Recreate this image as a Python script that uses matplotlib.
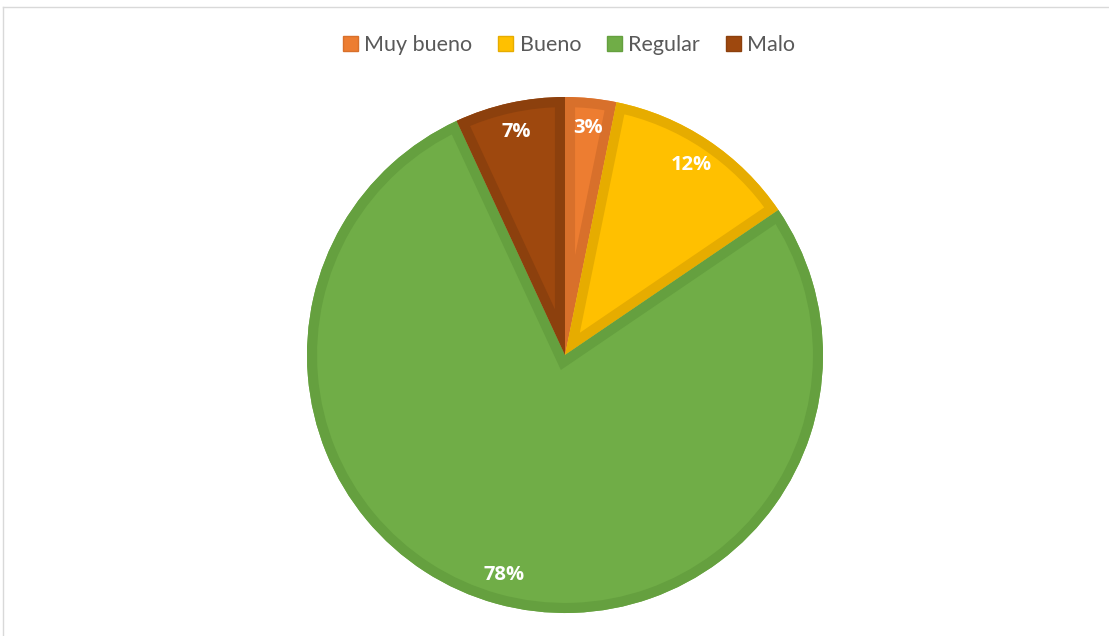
import matplotlib.pyplot as plt
from matplotlib.lines import Line2D
from matplotlib.patches import Patch, Wedge

categorias = ['Muy bueno', 'Bueno', 'Regular', 'Malo']
porcentajes = [3.2, 12.3, 77.6, 6.9]
colores = ['#ED7D31', '#FFC000', '#70AD47', '#9E480E']
bordes = ['#D8702B', '#E6AC00', '#65A03F', '#8C400D']

plt.rcParams['font.family'] = ['Lato', 'DejaVu Sans']

W, H = 1109, 636
fig = plt.figure(figsize=(W / 100, H / 100), dpi=100)

# pie centred at (565, 355) px with radius 258 px
cx, cy, r = 565, 355, 258
ax = fig.add_axes([(cx - r) / W, 1 - (cy + r) / H, 2 * r / W, 2 * r / H])

wedges, textos, autotextos = ax.pie(
    porcentajes, colors=colores, startangle=90, counterclock=False,
    autopct='%.0f%%', pctdistance=0.885,
    wedgeprops=dict(linewidth=0),
    textprops=dict(color='white', fontsize=14.5, fontweight='bold',
                   family=['Open Sans', 'DejaVu Sans']))

# inner border in a darker shade: a stroked copy of each wedge clipped to it
for w, bc in zip(wedges, bordes):
    borde = Wedge(w.center, w.r, w.theta1, w.theta2, fill=False,
                  edgecolor=bc, linewidth=14.5, joinstyle='miter')
    ax.add_patch(borde)
    borde.set_clip_path(w)
for t in autotextos:
    t.set_zorder(5)

ax.set_xlim(-1, 1)
ax.set_ylim(-1, 1)
ax.set_aspect('equal')
ax.axis('off')

handles = [Patch(facecolor=c, edgecolor=b, label=n) for c, b, n in zip(colores, bordes, categorias)]
fig.legend(handles=handles, loc='center', bbox_to_anchor=(569 / W, 1 - 45 / H),
           ncol=4, frameon=False, fontsize=15.5, labelcolor='#595959',
           handlelength=0.7, handleheight=0.7, handletextpad=0.3, columnspacing=1.2)

# chart area frame
fig.add_artist(Line2D([3 / W, 1], [1 - 7 / H, 1 - 7 / H], color='#D9D9D9', lw=1))
fig.add_artist(Line2D([3 / W, 3 / W], [0, 1 - 7 / H], color='#D9D9D9', lw=1))

fig.savefig('out.png', dpi=100)
